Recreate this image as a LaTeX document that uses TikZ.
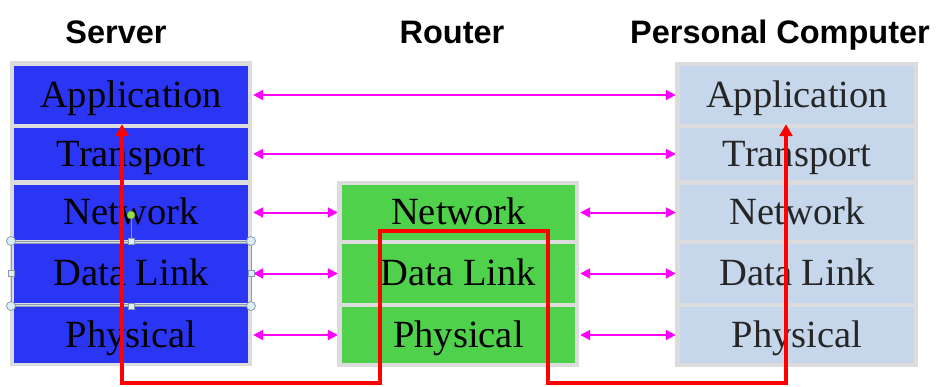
\documentclass[tikz,border=0pt]{standalone}
\usepackage{fontspec}
\setmainfont{Liberation Serif}
\newfontfamily\titlefont{Liberation Sans}
\usetikzlibrary{arrows.meta,calc}
\definecolor{srvblue}{HTML}{2B36F4}
\definecolor{rtgreen}{HTML}{50D14B}
\definecolor{pclight}{HTML}{C6D7EC}
\definecolor{stackgray}{HTML}{DCDCDC}
\definecolor{hdlline}{HTML}{8A9BB0}
\definecolor{hdlfill}{HTML}{DDEFF6}
\definecolor{rotgreen}{HTML}{8EE03C}
\definecolor{peermag}{HTML}{FF00FF}
\definecolor{routered}{HTML}{FF0000}
\tikzset{
  bg/.style={fill=stackgray, draw=none, inner sep=0pt},
  layer/.style={draw=none, inner sep=0pt, minimum width=234pt,
    font=\fontsize{38.5}{40}\selectfont, text height=24pt, text depth=0pt},
  srv/.style={layer, fill=srvblue},
  rtr/.style={layer, fill=rtgreen},
  pcl/.style={layer, fill=pclight, text=black!85},
  title/.style={font=\titlefont\bfseries\fontsize{32.5}{34}\selectfont, anchor=base},
  peer/.style={draw=peermag, line width=2pt,
    {Triangle[length=10pt,width=10pt]}-{Triangle[length=10pt,width=10pt]},
    shorten <=5pt, shorten >=4pt},
  route/.style={draw=routered, line width=3.5pt,
    {Triangle[length=12pt,width=13pt]}-{Triangle[length=12pt,width=13pt]}},
  hdl/.style={draw=hdlline, fill=hdlfill, line width=0.8pt}
}
\begin{document}
\begin{tikzpicture}[x=1pt,y=-1pt]
\useasboundingbox (0,0) rectangle (936,386);

% titles
\node[title] (tsrv) at (116,43) {Server};
\node[title] (trtr) at (452,43) {Router};
\node[title] (tpc) at (780,43) {Personal Computer};

% gray backgrounds
\node[bg, minimum width=242pt, minimum height=305pt] (sbg) at (131,213.5) {};
\node[bg, minimum width=242pt, minimum height=186pt] (rbg) at (458,274) {};
\node[bg, minimum width=243pt, minimum height=305pt] (pbg) at (796.5,214.5) {};

% server
\node[srv, minimum height=58pt] (sapp) at (131,95) {Application};
\node[srv, minimum height=52pt] (strn) at (131,154) {Transport};
\node[srv, minimum height=55pt] (snet) at (131,212.5) {Network};
\node[srv, minimum height=59pt] (sdl)  at (131,273.5) {Data Link};
\node[srv, minimum height=56pt] (sphy) at (131,335) {Physical};

% router
\node[rtr, minimum width=233pt, minimum height=55pt] (rnet) at (458.5,212.5) {Network};
\node[rtr, minimum width=233pt, minimum height=59pt] (rdl)  at (458.5,273.5) {Data Link};
\node[rtr, minimum width=233pt, minimum height=56pt] (rphy) at (458.5,335) {Physical};

% personal computer
\node[pcl, minimum height=58pt] (papp) at (797,95) {Application};
\node[pcl, minimum height=52pt] (ptrn) at (797,154) {Transport};
\node[pcl, minimum height=55pt] (pnet) at (797,212.5) {Network};
\node[pcl, minimum height=59pt] (pdl)  at (797,273.5) {Data Link};
\node[pcl, minimum height=56pt] (pphy) at (797,335) {Physical};

% peer arrows
\draw[peer] (sapp.east) -- (papp.west);
\draw[peer] (strn.east) -- (ptrn.west);
\draw[peer] (snet.east) -- (rnet.west);
\draw[peer] (sdl.east) -- (rdl.west);
\draw[peer] (sphy.east) -- (rphy.west);
\draw[peer] (rnet.east) -- (pnet.west);
\draw[peer] (rdl.east) -- (pdl.west);
\draw[peer] (rphy.east) -- (pphy.west);

% selection handles on server Data Link
\draw[hdlline, line width=0.8pt] (11,241) rectangle (251,306);
\draw[hdlline, line width=0.8pt] (11,243) -- (251,243);
\draw[hdlline, line width=0.8pt] (11,304) -- (251,304);
\draw[hdlline, line width=0.6pt] (131,219) -- (131,241);
\filldraw[hdl] (11,241) circle (4.5);
\filldraw[hdl] (251,241) circle (4.5);
\filldraw[hdl] (11,306) circle (4.5);
\filldraw[hdl] (251,306) circle (4.5);
\filldraw[hdl] (128,238) rectangle (134,244);
\filldraw[hdl] (128,303) rectangle (134,309);
\filldraw[hdl] (8,270) rectangle (14,276);
\filldraw[hdl] (248,270) rectangle (254,276);
\filldraw[draw=rotgreen!70!black, fill=rotgreen, line width=0.5pt] (131,215) circle (4);

% route through the router
\coordinate (rs) at ($(sapp.south)+(-9,0)$);
\coordinate (rb1) at (380,383);
\coordinate (rt) at (548,231);
\coordinate (rb2) at ($(papp.south)+(-11,259)$);
\coordinate (re) at ($(papp.south)+(-11,0)$);
\draw[route] (rs) |- (rb1) |- (rt) |- (rb2) -- (re);
\end{tikzpicture}
\end{document}
